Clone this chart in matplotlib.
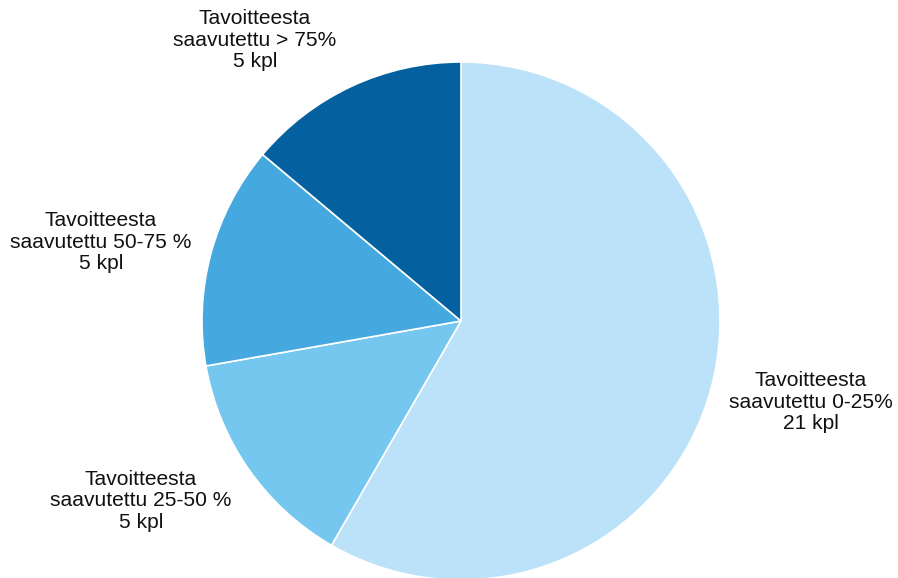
import matplotlib.pyplot as plt

labels = ['Tavoitteesta\nsaavutettu 0-25%\n21 kpl',
          'Tavoitteesta\nsaavutettu 25-50 %\n5 kpl',
          'Tavoitteesta\nsaavutettu 50-75 %\n5 kpl',
          'Tavoitteesta\nsaavutettu > 75%\n5 kpl']
counts = [21, 5, 5, 5]
colors = ['#BBE2F8', '#75C7F0', '#45A9DF', '#04609E']

# label centres in pixels (x, y from top)
label_pos = [(811, 402), (141, 501), (101, 242), (255, 40)]

W, H = 898, 578
fig = plt.figure(figsize=(W / 100, H / 100), dpi=100)
ax = fig.add_axes([202 / W, (H - 580) / H, 518 / W, 518 / H])
ax.pie(counts, colors=colors, startangle=90, counterclock=False, radius=1,
       wedgeprops={'edgecolor': 'white', 'linewidth': 1.2})
ax.set_xlim(-1, 1)
ax.set_ylim(-1, 1)
ax.set_aspect('equal')
ax.axis('off')

for txt, (px, py) in zip(labels, label_pos):
    fig.text(px / W, 1 - py / H, txt, ha='center', va='center', fontsize=15.1,
             family='Liberation Sans', linespacing=1.16, color='#111111')

fig.savefig('out.png', dpi=100)
